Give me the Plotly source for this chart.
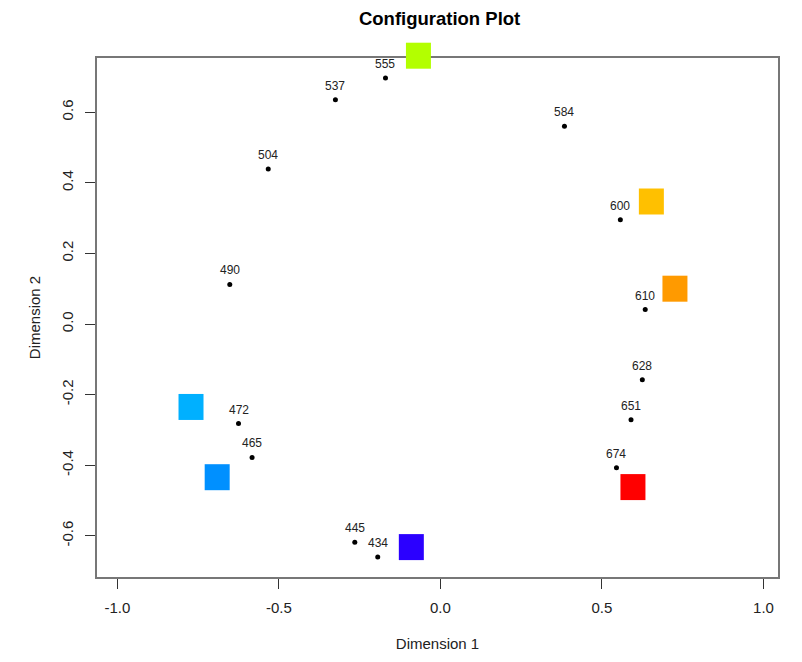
import plotly.graph_objects as go

# Stimulus points (wavelengths, nm)
labels = ["434", "445", "465", "472", "490", "504", "537", "555",
          "584", "600", "610", "628", "651", "674"]
dim1 = [-0.194, -0.265, -0.583, -0.625, -0.652, -0.533, -0.325, -0.170,
        0.384, 0.557, 0.634, 0.625, 0.590, 0.545]
dim2 = [-0.660, -0.618, -0.378, -0.282, 0.112, 0.439, 0.635, 0.697,
        0.560, 0.295, 0.041, -0.158, -0.271, -0.407]

# Coloured squares
sq_x = [-0.090, -0.691, -0.772, -0.068, 0.653, 0.726, 0.596]
sq_y = [-0.632, -0.434, -0.235, 0.760, 0.347, 0.100, -0.462]
sq_colors = ["#2B00FF", "#0090FF", "#00B0FF", "#B3FF00", "#FFC000", "#FF9A00", "#FF0000"]

x_ticks = [-1.0, -0.5, 0.0, 0.5, 1.0]
x_ticktext = ["-1.0", "-0.5", "0.0", "0.5", "1.0"]
y_ticks = [-0.6, -0.4, -0.2, 0.0, 0.2, 0.4, 0.6]
y_ticktext = ["-0.6", "-0.4", "-0.2", "0.0", "0.2", "0.4", "0.6"]

x_range = [-1.063, 1.045]
y_range = [-0.7167, 0.7535]

W, H = 794, 654  # page body adds an 8px margin

fig = go.Figure()

fig.add_trace(go.Scatter(
    x=dim1, y=dim2, mode="markers",
    marker=dict(color="black", size=5),
    cliponaxis=False, hoverinfo="skip", showlegend=False))

# squares: x in data units, y converted to the y axis' paper fraction so that
# a square may overlap the frame without being clipped
for sx, sy, sc in zip(sq_x, sq_y, sq_colors):
    fy = (sy - y_range[0]) / (y_range[1] - y_range[0])
    fig.add_shape(type="rect", xref="x", yref="paper",
                  xsizemode="pixel", ysizemode="pixel",
                  xanchor=sx, yanchor=fy,
                  x0=-12.5, x1=12.5, y0=-13, y1=13,
                  fillcolor=sc, line=dict(width=0), layer="above")

for lx, ly, lt in zip(dim1, dim2, labels):
    fig.add_annotation(x=lx, y=ly, text=lt, showarrow=False, yshift=14,
                       xanchor="center", yanchor="middle",
                       font=dict(family="Liberation Sans Narrow, Arial Narrow, Liberation Sans, Arial",
                                 size=12, color="#222222"))

axis_common = dict(
    showgrid=False, zeroline=False, showline=True, mirror=True,
    linecolor="#777777", linewidth=1.5, ticks="outside", ticklen=10,
    tickcolor="#333333", tickwidth=1.2, layer="below traces",
    tickfont=dict(family="Liberation Sans, Arial", size=15, color="#222222"),
)

fig.update_layout(
    width=W, height=H,
    margin=dict(l=89.3, r=24.3, t=49.7, b=81.2),
    paper_bgcolor="white", plot_bgcolor="white",
    title=dict(text="<b>Configuration Plot</b>", x=431.6 / W, xanchor="center",
               y=1 - 10.5 / H, yanchor="middle",
               font=dict(family="Liberation Sans, Arial", size=18.5, color="black")),
    xaxis=dict(range=x_range, tickvals=x_ticks, ticktext=x_ticktext,
               title=dict(text="Dimension 1", standoff=24,
                          font=dict(family="Liberation Sans, Arial", size=15, color="#222222")),
               ticklabelstandoff=6, **axis_common),
    yaxis=dict(range=y_range, tickvals=y_ticks, ticktext=y_ticktext,
               tickangle=-90,
               title=dict(text="Dimension 2", standoff=15,
                          font=dict(family="Liberation Sans, Arial", size=15, color="#222222")),
               ticklabelstandoff=6, **axis_common),
)

fig.write_html("out.html")
